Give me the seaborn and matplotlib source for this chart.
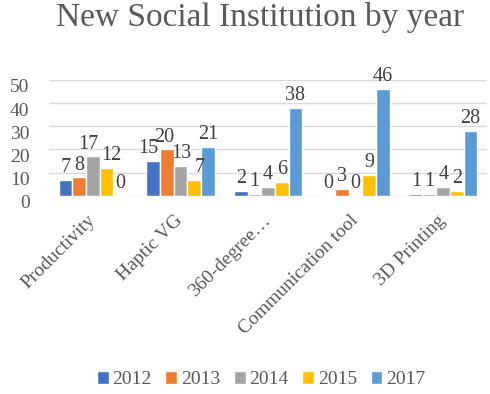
import matplotlib
matplotlib.use("Agg")
import matplotlib.pyplot as plt
import matplotlib.transforms as mtrans
import seaborn as sns
import pandas as pd

categories = ["Productivity", "Haptic VG", "360-degree…", "Communication tool", "3D Printing"]
years = ["2012", "2013", "2014", "2015", "2017"]
v2012 = [7, 15, 2, 0, 1]
v2013 = [8, 20, 1, 3, 1]
v2014 = [17, 13, 4, 0, 4]
v2015 = [12, 7, 6, 9, 2]
v2017 = [0, 21, 38, 46, 28]
colors = ["#4472C4", "#ED7D31", "#A5A5A5", "#FFC000", "#5B9BD5"]

series = [v2012, v2013, v2014, v2015, v2017]
rows = []
for y, vals in zip(years, series):
    for c, v in zip(categories, vals):
        rows.append({"category": c, "year": y, "value": v})
df = pd.DataFrame(rows)

sns.set_theme(style="white")
plt.rcParams["font.family"] = ["Liberation Serif", "DejaVu Serif"]

fig = plt.figure(figsize=(4.9, 3.94), dpi=100)
ax = fig.add_axes([0.10, 0.503, 0.894, 0.294])

sns.barplot(data=df, x="category", y="value", hue="year", order=categories,
            hue_order=years, palette=colors, width=0.78, saturation=1,
            ax=ax, legend=True)

label_sets = []
for cont in ax.containers:
    label_sets.append(ax.bar_label(cont, fmt="%g", padding=2, fontsize=14.5, color="#404040"))

ax.set_xlim(-0.5, 4.5)
ax.set_ylim(0, 50)
ax.set_yticks([0, 10, 20, 30, 40, 50])
ax.yaxis.grid(True, color="#D9D9D9", linewidth=1)
ax.set_axisbelow(True)
for s in ax.spines.values():
    s.set_visible(False)
ax.set_xlabel("")
ax.set_ylabel("")
ax.tick_params(axis="y", labelsize=14, labelcolor="#595959", length=0, pad=14)
ax.tick_params(axis="x", labelsize=14, labelcolor="#595959", length=0, pad=16)
plt.setp(ax.get_xticklabels(), rotation=45, ha="right", va="center", rotation_mode="anchor")
shift = mtrans.ScaledTranslation(0, -6 / 100, fig.dpi_scale_trans)
for lab in ax.get_yticklabels():
    lab.set_transform(lab.get_transform() + shift)

fig.suptitle("New Social Institution by year", x=0.53, y=0.995, fontsize=24, color="#595959")

handles, labels = ax.get_legend_handles_labels()
ax.legend_.remove()
fig.legend(handles, labels, loc="lower center", bbox_to_anchor=(0.533, -0.03), ncol=5,
           frameon=False, fontsize=14, handlelength=0.6, handleheight=0.6,
           handletextpad=0.2, columnspacing=0.7, labelcolor="#595959")

# nudge touching value labels apart horizontally (offsets in points)
fig.canvas.draw()
renderer = fig.canvas.get_renderer()
px2pt = 72.0 / fig.dpi
for ci in range(len(categories)):
    texts = [ls[ci] for ls in label_sets]
    for i in range(1, len(texts)):
        a, b = texts[i - 1], texts[i]
        ba = a.get_window_extent(renderer)
        bb = b.get_window_extent(renderer)
        vert = min(ba.y1, bb.y1) - max(ba.y0, bb.y0)
        horiz = ba.x1 - bb.x0
        if vert > 0 and horiz > -2:
            d = (horiz + 3) / 2 * px2pt
            ax_, ay_ = a.xyann
            a.xyann = (ax_ - d, ay_)
            bx_, by_ = b.xyann
            b.xyann = (bx_ + d, by_)
            fig.canvas.draw()

fig.savefig("out.png", dpi=100)
